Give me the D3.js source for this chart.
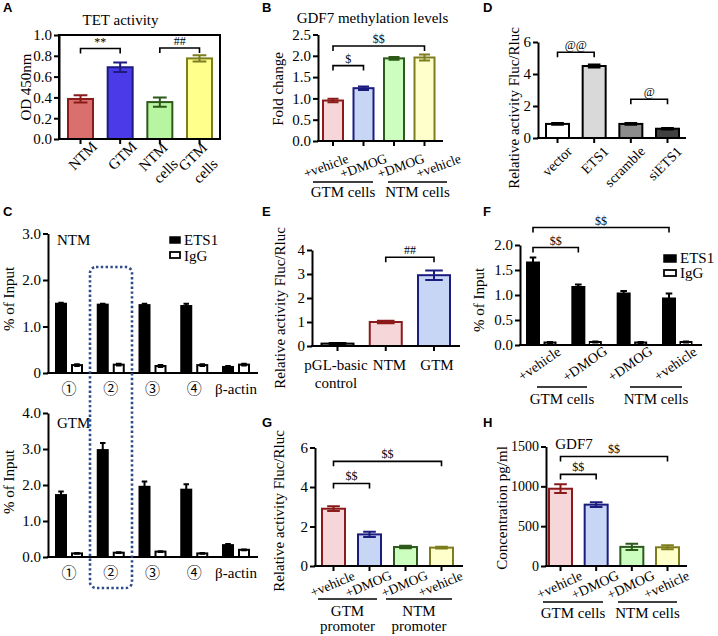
<!DOCTYPE html>
<html><head><meta charset="utf-8">
<script src="https://cdn.jsdelivr.net/npm/d3@7"></script>
<style>body{margin:0;background:#fff}</style></head><body>
<svg id="c" width="718" height="636"></svg>
<script>
// ---------------- DATA ----------------
const aCats = ["NTM","GTM","NTM\ncells","GTM\ncells"];
const aVals = [0.385,0.69,0.355,0.775];
const aErrs = [0.035,0.045,0.045,0.03];
const aTicks = [0,0.2,0.4,0.6,0.8,1.0];
const aSig = [{from:0,to:1,v:0.87,label:"**"},{from:2,to:3,v:0.875,label:"##"}];

const bCats = ["+vehicle","+DMOG","+DMOG","+vehicle"];
const bVals = [0.95,1.24,1.94,1.96];
const bErrs = [0.04,0.04,0.03,0.07];
const bTicks = [0,0.5,1.0,1.5,2.0,2.5];
const bSig = [{from:0,to:1,v:1.77,label:"$"},{from:0,to:3,v:2.23,label:"$$"}];
const bGroups = ["GTM cells","NTM cells"];

const dCats = ["vector","ETS1","scramble","siETS1"];
const dVals = [0.88,4.5,0.88,0.58];
const dErrs = [0.05,0.1,0.05,0.05];
const dTicks = [0,2,4,6];
const dSig = [{from:0,to:1,v:5.36,label:"@@"},{from:2,to:3,v:2.42,label:"@"}];

const cSites = ["①","②","③","④","β-actin"];
const cSeries = ["ETS1","IgG"];
const cNtmEts1 = [1.49,1.47,1.46,1.44,0.13];
const cNtmEts1Err = [0.02,0.02,0.03,0.05,0.02];
const cNtmIgg = [0.17,0.18,0.15,0.17,0.18];
const cNtmIggErr = [0.02,0.02,0.02,0.02,0.02];
const cNtmTicks = [0,1,2,3];
const cGtmEts1 = [1.72,2.97,1.95,1.87,0.33];
const cGtmEts1Err = [0.1,0.2,0.15,0.15,0.03];
const cGtmIgg = [0.1,0.12,0.15,0.1,0.2];
const cGtmIggErr = [0.01,0.01,0.01,0.01,0.01];
const cGtmTicks = [0,1,2,3,4];

const eCats = ["pGL-basic\ncontrol","NTM","GTM"];
const eVals = [0.1,1.0,2.95];
const eErrs = [0.02,0.05,0.2];
const eTicks = [0,1,2,3,4];
const eSig = [{from:1,to:2,v:3.7,label:"##"}];

const fCats = ["+vehicle","+DMOG","+DMOG","+vehicle"];
const fEts1 = [1.65,1.16,1.03,0.93];
const fEts1Err = [0.1,0.05,0.05,0.1];
const fIgg = [0.05,0.06,0.05,0.06];
const fIggErr = [0.01,0.01,0.01,0.01];
const fTicks = [0,0.5,1.0,1.5,2.0];
const fSig = [{from:0,to:1,v:1.95,label:"$$"},{from:0,to:3,v:2.35,label:"$$"}];
const fGroups = ["GTM cells","NTM cells"];

const gCats = ["+vehicle","+DMOG","+DMOG","+vehicle"];
const gVals = [2.9,1.6,0.96,0.93];
const gErrs = [0.12,0.13,0.06,0.05];
const gTicks = [0,2,4,6];
const gSig = [{from:0,to:1,v:4.18,label:"$$"},{from:0,to:3,v:5.3,label:"$$"}];
const gGroups = ["GTM\npromoter","NTM\npromoter"];

const hCats = ["+vehicle","+DMOG","+DMOG","+vehicle"];
const hVals = [970,770,240,235];
const hErrs = [55,30,40,25];
const hTicks = [0,500,1000,1500];
const hSig = [{from:0,to:1,v:1150,label:"$$"},{from:0,to:3,v:1375,label:"$$"}];
const hGroups = ["GTM cells","NTM cells"];

// ---------------- STYLES ----------------
const SERIF = "'Liberation Serif','Times New Roman',serif";
const SANS = "'Liberation Sans',Arial,sans-serif";
const RED = "#8b1a1a", NAVY = "#1c1c80", DGREEN = "#2d5a1b", OLIVE = "#7d7d1e";
const vivid = ["#d9706e","#4a3ae8","#b8f5a0","#ffff8c"];
const pastel = ["#f6d6d9","#c7d6f5","#ccffbf","#ffffcc"];
const darks = [RED,NAVY,DGREEN,OLIVE];

const svg = d3.select("#c");

function txt(x, y, s, o = {}) {
  return svg.append("text").attr("x", x).attr("y", y).text(s)
    .attr("font-family", o.ff || SERIF).attr("font-size", o.fs || 15)
    .attr("text-anchor", o.anchor || "start").attr("font-weight", o.fw || "normal")
    .attr("fill", o.fill || "#000");
}
function yAxis(y, x0, ticks, fmt, fs = 15) {
  const ax = svg.append("g").attr("transform", `translate(${x0},0)`)
    .call(d3.axisLeft(y).tickValues(ticks).tickFormat(fmt).tickSize(5).tickSizeOuter(0).tickPadding(2));
  ax.select(".domain").attr("stroke", "#000").attr("stroke-width", 2);
  ax.selectAll(".tick line").attr("stroke", "#000").attr("stroke-width", 2);
  ax.selectAll(".tick text").attr("font-size", fs).attr("font-family", SERIF).attr("fill", "#000");
}
function baseLine(x1, x2, y0) {
  svg.append("line").attr("x1", x1 - 1).attr("x2", x2).attr("y1", y0).attr("y2", y0)
    .attr("stroke", "#000").attr("stroke-width", 2);
}
function xTicks(xs, y0) {
  xs.forEach(cx => svg.append("line").attr("x1", cx).attr("x2", cx).attr("y1", y0).attr("y2", y0 + 5)
    .attr("stroke", "#000").attr("stroke-width", 2));
}
function drawBars(xs, y, vals, errs, w, fills, strokes) {
  const g = svg.append("g");
  g.selectAll("rect").data(vals).join("rect")
    .attr("x", (d, i) => xs[i] - w / 2).attr("y", d => y(d)).attr("width", w)
    .attr("height", d => y(0) - y(d))
    .attr("fill", (d, i) => fills[i]).attr("stroke", (d, i) => strokes[i]).attr("stroke-width", 2);
  const cap = w * 0.55;
  vals.forEach((v, i) => {
    const lo = y(Math.max(0, v - errs[i])), hi = y(v + errs[i]);
    g.append("path").attr("d", `M${xs[i]},${lo}V${hi}M${xs[i] - cap / 2},${hi}H${xs[i] + cap / 2}M${xs[i] - cap / 2},${lo}H${xs[i] + cap / 2}`)
      .attr("stroke", strokes[i]).attr("stroke-width", 2).attr("fill", "none");
  });
}
function brackets(sigs, xs, y) {
  sigs.forEach(s => {
    const x1 = xs[s.from], x2 = xs[s.to], yp = y(s.v);
    svg.append("path").attr("d", `M${x1},${yp + 5}V${yp}H${x2}V${yp + 5}`)
      .attr("stroke", "#000").attr("stroke-width", 1.6).attr("fill", "none");
    txt((x1 + x2) / 2, yp - 3, s.label, {fs: 12, anchor: "middle"});
  });
}
function rotLabels(xs, y0, labels, o) {
  labels.forEach((lab, i) => {
    const lines = lab.split("\n"), n = lines.length;
    const t = svg.append("text")
      .attr("transform", `translate(${xs[i] + o.dx + (n > 1 ? o.mdx : 0)},${y0 + o.dy + (n > 1 ? o.mdy : 0)}) rotate(${o.angle})`)
      .attr("text-anchor", o.anchor).attr("font-family", SERIF).attr("font-size", o.fs).attr("fill", "#000");
    lines.forEach((ln, j) => t.append("tspan").attr("x", j ? o.l2dx : 0).attr("y", j * (o.lh || 18))
      .attr("dominant-baseline", "central").text(ln));
  });
}
function yTitle(s, x, y, fs = 15) {
  svg.append("text").attr("transform", `translate(${x},${y}) rotate(-90)`).attr("text-anchor", "middle")
    .attr("dominant-baseline", "central").attr("font-family", SERIF).attr("font-size", fs).text(s);
}
function groupUnder(x1, x2, yl, label, ty, fs = 15) {
  svg.append("line").attr("x1", x1).attr("x2", x2).attr("y1", yl).attr("y2", yl).attr("stroke", "#000").attr("stroke-width", 1.5);
  label.split("\n").forEach((ln, j) => txt((x1 + x2) / 2, ty + j * 15, ln, {fs, anchor: "middle"}));
}
function letter(s, x, y) { txt(x, y, s, {ff: SANS, fw: "bold", fs: 13}); }

// ---------------- PANEL A ----------------
{
  const y = d3.scaleLinear().domain([0, 1]).range([139, 35]);
  const x = d3.scalePoint().domain(d3.range(aVals.length)).range([80.5, 199.5]);
  const xs = aVals.map((d, i) => x(i));
  drawBars(xs, y, aVals, aErrs, 25, vivid, darks);
  svg.append("rect").attr("x", 59).attr("y", 35).attr("width", 161).attr("height", 104)
    .attr("fill", "none").attr("stroke", "#000").attr("stroke-width", 2);
  yAxis(y, 59, aTicks, d3.format(".1f"));
  xTicks(xs, 139);
  brackets(aSig, xs, y);
  rotLabels(xs, 139, aCats, {angle: -45, anchor: "end", dx: 14, dy: 5, mdx: -9, mdy: 1, lh: 19, l2dx: -4, fs: 15});
  txt(120.5, 25, "TET activity", {fs: 15, anchor: "middle"});
  yTitle("OD 450nm", 26, 87);
  letter("A", 3, 12);
}
// ---------------- PANEL B ----------------
{
  const y = d3.scaleLinear().domain([0, 2.5]).range([141, 34.5]);
  const x = d3.scalePoint().domain(d3.range(bVals.length)).range([333, 424.5]);
  const xs = bVals.map((d, i) => x(i));
  drawBars(xs, y, bVals, bErrs, 20, pastel, darks);
  yAxis(y, 318, bTicks, d3.format(".1f"));
  baseLine(318, 443, 141);
  xTicks(xs, 141);
  brackets(bSig, xs, y);
  const lx = d3.scalePoint().domain(d3.range(bCats.length)).range([326, 438.5]);
  rotLabels(bCats.map((d, i) => lx(i)), 141, bCats, {angle: -20, anchor: "middle", dx: 0, dy: 25, fs: 13.5});
  groupUnder(313, 373, 182, bGroups[0], 197);
  groupUnder(388, 447, 182, bGroups[1], 197);
  txt(372.5, 23, "GDF7 methylation levels", {fs: 15, anchor: "middle"});
  yTitle("Fold change", 278, 89);
  letter("B", 262, 12);
}
// ---------------- PANEL D ----------------
{
  const y = d3.scaleLinear().domain([0, 6]).range([138, 42]);
  const x = d3.scalePoint().domain(d3.range(dVals.length)).range([557.5, 667.5]);
  const xs = dVals.map((d, i) => x(i));
  drawBars(xs, y, dVals, dErrs, 23, ["#ffffff", "#d9d9d9", "#8c8c8c", "#404040"], ["#000", "#000", "#000", "#000"]);
  yAxis(y, 538, dTicks, d3.format("d"));
  baseLine(538, 686, 138);
  xTicks(xs, 138);
  brackets(dSig, xs, y);
  rotLabels(xs, 138, dCats, {angle: -45, anchor: "end", dx: 12, dy: 11, fs: 14});
  yTitle("Relative activity Fluc/Rluc", 514, 108);
  letter("D", 483, 12);
}
// ---------------- PANEL C ----------------
{
  const x = d3.scalePoint().domain(d3.range(cSites.length)).range([69, 236]);
  const gx = cSites.map((d, i) => x(i));
  const off = 8, w = 10;
  const drawSub = (y, ets, etsE, igg, iggE, ticks, fmt, y0, name, nameY, titleY) => {
    drawBars(gx.map(c => c - off), y, ets, etsE, w, ets.map(() => "#000"), ets.map(() => "#000"));
    drawBars(gx.map(c => c + off), y, igg, iggE, w, igg.map(() => "#fff"), igg.map(() => "#000"));
    yAxis(y, 48, ticks, fmt);
    baseLine(48, 258, y0);
    cSites.forEach((s, i) => txt(gx[i], y0 + 21, s, {fs: 15, anchor: "middle",
      ff: i < 4 ? "'Noto Sans CJK JP','DejaVu Sans',sans-serif" : SERIF}));
    txt(57, nameY, name, {fs: 15});
    yTitle("% of Input", 9, titleY);
  };
  const yN = d3.scaleLinear().domain([0, 3]).range([373, 233.5]);
  drawSub(yN, cNtmEts1, cNtmEts1Err, cNtmIgg, cNtmIggErr, cNtmTicks, d => d === 0 ? "0" : d3.format(".1f")(d), 373, "NTM", 245, 299);
  const yG = d3.scaleLinear().domain([0, 4]).range([557, 413]);
  drawSub(yG, cGtmEts1, cGtmEts1Err, cGtmIgg, cGtmIggErr, cGtmTicks, d3.format(".1f"), 557, "GTM", 428, 482);
  // legend
  svg.append("rect").attr("x", 170).attr("y", 237).attr("width", 10).attr("height", 6).attr("fill", "#000").attr("stroke", "#000").attr("stroke-width", 1.5);
  txt(184, 245, cSeries[0]);
  svg.append("rect").attr("x", 170).attr("y", 252).attr("width", 10).attr("height", 6).attr("fill", "#fff").attr("stroke", "#000").attr("stroke-width", 1.8);
  txt(184, 261, cSeries[1]);
  // dotted highlight box
  svg.append("rect").attr("x", 90).attr("y", 267).attr("width", 42).attr("height", 321).attr("rx", 6)
    .attr("fill", "none").attr("stroke", "#2f4b8c").attr("stroke-width", 2.6).attr("stroke-dasharray", "2.4 2.4");
  letter("C", 3, 216);
}
// ---------------- PANEL E ----------------
{
  const y = d3.scaleLinear().domain([0, 4]).range([346, 250]);
  const x = d3.scalePoint().domain(d3.range(eVals.length)).range([337.5, 434]);
  const xs = eVals.map((d, i) => x(i));
  drawBars(xs, y, eVals, eErrs, 32, ["#bfbfbf", pastel[0], pastel[1]], ["#000", RED, NAVY]);
  yAxis(y, 312, eTicks, d3.format("d"));
  baseLine(312, 460, 346);
  xTicks(xs, 346);
  brackets(eSig, xs, y);
  const lx = d3.scalePoint().domain(d3.range(eCats.length)).range([336, 437]);
  eCats.forEach((c, i) => c.split("\n").forEach((ln, j) =>
    txt(lx(i) + (i === 1 ? 3 : 0), 370 + j * 18, ln, {fs: 15, anchor: "middle"})));
  yTitle("Relative activity Fluc/Rluc", 280, 308);
  letter("E", 262, 216);
}
// ---------------- PANEL F ----------------
{
  const y = d3.scaleLinear().domain([0, 2]).range([345, 245]);
  const x = d3.scalePoint().domain(d3.range(fEts1.length)).range([541.5, 677.5]);
  const gx = fEts1.map((d, i) => x(i));
  drawBars(gx.map(c => c - 8.5), y, fEts1, fEts1Err, 12, fEts1.map(() => "#000"), fEts1.map(() => "#000"));
  drawBars(gx.map(c => c + 8.5), y, fIgg, fIggErr, 11, fIgg.map(() => "#fff"), fIgg.map(() => "#000"));
  yAxis(y, 520, fTicks, d3.format(".1f"));
  baseLine(520, 702, 345);
  brackets(fSig, gx.map(c => c - 8.5), y);
  rotLabels(gx, 345, fCats, {angle: -35, anchor: "middle", dx: -2, dy: 19, fs: 14});
  groupUnder(537, 587, 387, fGroups[0], 404);
  groupUnder(630, 682, 387, fGroups[1], 404);
  svg.append("rect").attr("x", 664).attr("y", 255).attr("width", 12).attr("height", 7).attr("fill", "#000").attr("stroke", "#000").attr("stroke-width", 1.5);
  txt(680, 263, cSeries[0]);
  svg.append("rect").attr("x", 664).attr("y", 270).attr("width", 12).attr("height", 6).attr("fill", "#fff").attr("stroke", "#000").attr("stroke-width", 1.8);
  txt(680, 278, cSeries[1]);
  yTitle("% of Input", 479, 300);
  letter("F", 483, 216);
}
// ---------------- PANEL G ----------------
{
  const y = d3.scaleLinear().domain([0, 6]).range([566, 447.5]);
  const x = d3.scalePoint().domain(d3.range(gVals.length)).range([333.5, 441.5]);
  const xs = gVals.map((d, i) => x(i));
  drawBars(xs, y, gVals, gErrs, 23, pastel, darks);
  yAxis(y, 315, gTicks, d3.format("d"));
  baseLine(315, 463, 566);
  xTicks(xs, 566);
  brackets(gSig, xs, y);
  rotLabels(xs, 566, gCats, {angle: -23, anchor: "middle", dx: -1, dy: 18, fs: 13.5});
  groupUnder(318, 377, 599, gGroups[0], 616);
  groupUnder(386, 452, 599, gGroups[1], 616);
  yTitle("Relative activity Fluc/Rluc", 279, 511);
  letter("G", 262, 427);
}
// ---------------- PANEL H ----------------
{
  const y = d3.scaleLinear().domain([0, 1500]).range([566, 446.5]);
  const x = d3.scalePoint().domain(d3.range(hVals.length)).range([560.5, 667.5]);
  const xs = hVals.map((d, i) => x(i));
  drawBars(xs, y, hVals, hErrs, 23, pastel, darks);
  yAxis(y, 546, hTicks, d3.format("d"), 14);
  baseLine(546, 687, 566);
  xTicks(xs, 566);
  brackets(hSig, xs, y);
  rotLabels(xs, 566, hCats, {angle: -25, anchor: "middle", dx: -1, dy: 19, fs: 14});
  groupUnder(543, 603, 602, hGroups[0], 618);
  groupUnder(618, 677, 602, hGroups[1], 618);
  txt(574, 449, "GDF7", {fs: 15, anchor: "middle"});
  yTitle("Concentration pg/ml", 502, 508);
  letter("H", 483, 427);
}
</script></body></html>
